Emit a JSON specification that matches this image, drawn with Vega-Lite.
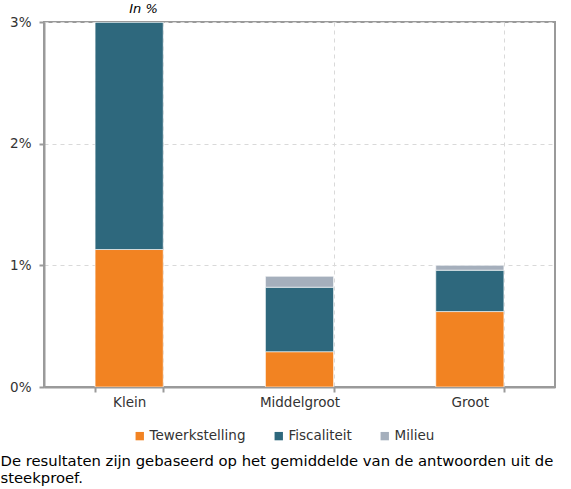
{
  "$schema": "https://vega.github.io/schema/vega-lite/v6.json",
  "autosize": {"type": "none"},
  "width": 511,
  "height": 365,
  "padding": {"left": 44, "top": 22, "right": 16, "bottom": 102},
  "background": "white",
  "config": {
    "font": "DejaVu Sans",
    "view": {"stroke": "#9a9a9a", "strokeWidth": 2},
    "axis": {
      "labelFont": "DejaVu Sans",
      "labelFontSize": 13.5,
      "labelColor": "#333333",
      "domainColor": "#9a9a9a",
      "domainWidth": 2,
      "tickColor": "#9a9a9a",
      "tickWidth": 2,
      "tickSize": 5,
      "gridColor": "#d9d9d9",
      "gridDash": [4, 4],
      "gridWidth": 1
    }
  },
  "data": {
    "values": [
      {"grootte": "Klein", "categorie": "Tewerkstelling", "volgorde": 1, "waarde": 1.13},
      {"grootte": "Klein", "categorie": "Fiscaliteit", "volgorde": 2, "waarde": 1.87},
      {"grootte": "Klein", "categorie": "Milieu", "volgorde": 3, "waarde": 0.0},
      {"grootte": "Middelgroot", "categorie": "Tewerkstelling", "volgorde": 1, "waarde": 0.29},
      {"grootte": "Middelgroot", "categorie": "Fiscaliteit", "volgorde": 2, "waarde": 0.53},
      {"grootte": "Middelgroot", "categorie": "Milieu", "volgorde": 3, "waarde": 0.09},
      {"grootte": "Groot", "categorie": "Tewerkstelling", "volgorde": 1, "waarde": 0.62},
      {"grootte": "Groot", "categorie": "Fiscaliteit", "volgorde": 2, "waarde": 0.34},
      {"grootte": "Groot", "categorie": "Milieu", "volgorde": 3, "waarde": 0.04}
    ]
  },
  "mark": {"type": "bar", "clip": true, "stroke": "white", "strokeWidth": 0.6},
  "encoding": {
    "x": {
      "field": "grootte",
      "type": "nominal",
      "sort": ["Klein", "Middelgroot", "Groot"],
      "scale": {"paddingInner": 0.6, "paddingOuter": 0.3},
      "axis": {
        "labelAngle": 0,
        "labelPadding": 3,
        "tickBand": "extent",
        "grid": true,
        "title": [
          "De resultaten zijn gebaseerd op het gemiddelde van de antwoorden uit de",
          "steekproef."
        ],
        "titleX": -44,
        "titleY": 66,
        "titleAlign": "left",
        "titleAnchor": null,
        "titleBaseline": "top",
        "titleFont": "DejaVu Sans",
        "titleFontSize": 14.8,
        "titleFontWeight": "normal",
        "titleColor": "#000000",
        "titleLineHeight": 17
      }
    },
    "y": {
      "field": "waarde",
      "type": "quantitative",
      "stack": "zero",
      "scale": {"domain": [0, 3], "nice": false},
      "axis": {
        "values": [0, 1, 2, 3],
        "labelExpr": "datum.value + '%'",
        "labelPadding": 8,
        "grid": true,
        "title": "In %",
        "titleAngle": 0,
        "titleX": 99,
        "titleY": -10,
        "titleAlign": "center",
        "titleBaseline": "alphabetic",
        "titleFont": "DejaVu Sans",
        "titleFontSize": 13,
        "titleFontStyle": "italic",
        "titleFontWeight": "normal",
        "titleColor": "#000000"
      }
    },
    "color": {
      "field": "categorie",
      "type": "nominal",
      "sort": ["Tewerkstelling", "Fiscaliteit", "Milieu"],
      "scale": {
        "domain": ["Tewerkstelling", "Fiscaliteit", "Milieu"],
        "range": ["#f28322", "#2e687d", "#a5afbc"]
      },
      "legend": {
        "title": null,
        "orient": "none",
        "direction": "horizontal",
        "legendX": 89,
        "legendY": 407,
        "symbolType": "square",
        "symbolSize": 70,
        "symbolStrokeWidth": 0,
        "labelFont": "DejaVu Sans",
        "labelFontSize": 13.5,
        "labelColor": "#333333",
        "labelOffset": 3,
        "columnPadding": 26
      }
    },
    "order": {"field": "volgorde", "type": "quantitative"}
  }
}
